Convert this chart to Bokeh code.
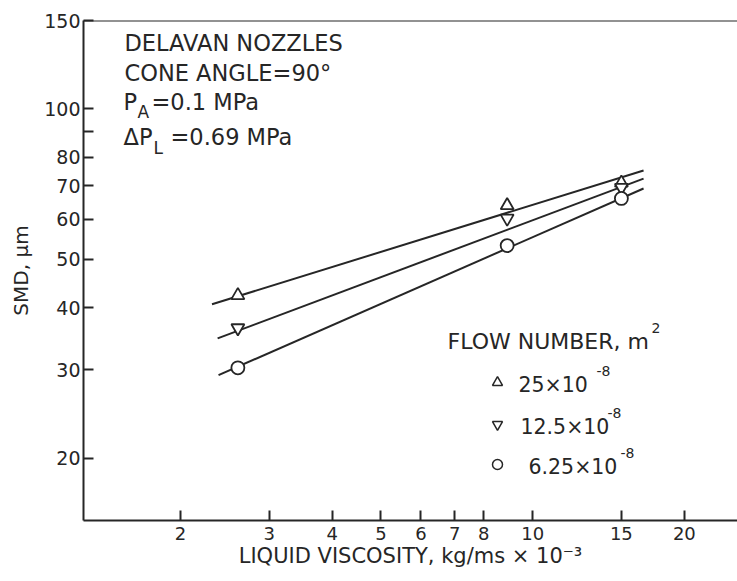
import math
from bokeh.plotting import figure
from bokeh.models import Label, Span, FixedTicker
from bokeh.embed import file_html
from bokeh.resources import INLINE

# ---------------- data ----------------
viscosity = [2.6, 8.9, 15.0]               # kg/ms x 1e-3
smd_fn25 = [42.3, 64.0, 71.0]              # flow number 25e-8 (triangle)
smd_fn125 = [36.4, 60.3, 69.5]             # flow number 12.5e-8 (inverted triangle)
smd_fn625 = [30.3, 53.2, 66.1]             # flow number 6.25e-8 (circle)

fit_fn25_x = [2.31, 16.6]
fit_fn25_y = [40.6, 75.2]
fit_fn125_x = [2.37, 16.6]
fit_fn125_y = [34.7, 72.4]
fit_fn625_x = [2.38, 16.6]
fit_fn625_y = [29.3, 69.2]

x_ticks = [2, 3, 4, 5, 6, 7, 8, 10, 15, 20]
y_ticks = [20, 30, 40, 50, 60, 70, 80, 100, 150]
y_minor = [90]

legend_labels = ["25×10", "12.5×10", "6.25×10"]
legend_markers = ["triangle", "inverted_triangle", "circle"]

# ---------------- styling ----------------
INK = "#262626"
FONT = "DejaVu Sans"
W, H = 737, 581
LEFT, TOP, BOTTOM = 83, 20, 61
X0, X1 = 1.284, 25.5
Y0, Y1 = 15.0, 150.0
FW, FH = W - LEFT, H - TOP - BOTTOM

p = figure(width=W, height=H, x_axis_type="log", y_axis_type="log",
           x_range=(X0, X1), y_range=(Y0, Y1),
           output_backend="svg", toolbar_location=None,
           min_border_left=LEFT, min_border_right=0,
           min_border_top=TOP, min_border_bottom=BOTTOM)
p.outline_line_color = None
p.grid.visible = False
p.background_fill_color = "white"
p.border_fill_color = "white"

for ax in (p.xaxis[0], p.yaxis[0]):
    ax.axis_line_color = INK
    ax.axis_line_width = 2
    ax.major_tick_line_color = INK
    ax.major_tick_line_width = 2
    ax.minor_tick_line_color = INK
    ax.minor_tick_line_width = 2
    ax.major_tick_in = 10
    ax.major_tick_out = 0
    ax.minor_tick_in = 10
    ax.minor_tick_out = 0
    ax.major_label_text_color = INK
    ax.major_label_text_font = FONT
    ax.axis_label_text_color = INK
    ax.axis_label_text_font = FONT
    ax.axis_label_text_font_style = "normal"

p.xaxis[0].ticker = FixedTicker(ticks=x_ticks, minor_ticks=[])
p.yaxis[0].ticker = FixedTicker(ticks=y_ticks, minor_ticks=y_minor)
p.xaxis[0].major_label_text_font_size = "18px"
p.yaxis[0].major_label_text_font_size = "19px"
p.xaxis[0].major_label_standoff = 6
p.yaxis[0].major_label_standoff = 3

p.xaxis[0].axis_label = "LIQUID VISCOSITY, kg/ms × 10⁻³"
p.xaxis[0].axis_label_text_font_size = "21px"
p.xaxis[0].axis_label_standoff = 1
p.yaxis[0].axis_label = "SMD, μm"
p.yaxis[0].axis_label_text_font_size = "20px"
p.yaxis[0].axis_label_standoff = 8

p.add_layout(Span(location=Y1, dimension="width", line_color=INK, line_width=2))

# fitted lines
for fx, fy in ((fit_fn25_x, fit_fn25_y), (fit_fn125_x, fit_fn125_y), (fit_fn625_x, fit_fn625_y)):
    p.line(fx, fy, line_color=INK, line_width=2)

# data points
for ys, mk in ((smd_fn25, "triangle"), (smd_fn125, "inverted_triangle"), (smd_fn625, "circle")):
    p.scatter(viscosity, ys, marker=mk, size=13, fill_color="white",
              line_color=INK, line_width=1.8)


# ---------- helpers to place text by pixel position ----------
def px_x(px):
    lo, hi = math.log10(X0), math.log10(X1)
    return 10 ** (lo + (px - LEFT) / FW * (hi - lo))


def px_y(py):
    lo, hi = math.log10(Y0), math.log10(Y1)
    return 10 ** (hi - (py - TOP) / FH * (hi - lo))


def text(px, py, s, size, align="left", angle=0.0):
    p.add_layout(Label(x=px_x(px), y=px_y(py), text=s, text_font=FONT,
                       text_font_size=f"{size}px", text_color=INK,
                       text_align=align, text_baseline="middle", angle=angle))


# annotation block
text(124, 42, "DELAVAN NOZZLES", 22.5)
text(124, 72, "CONE ANGLE=90°", 22.5)
text(123, 101, "P", 22.5)
text(137, 111, "A", 17)
text(151, 101, "=0.1 MPa", 22.5)
text(123, 136, "ΔP", 22.5)
text(153, 147, "L", 17)
text(170, 136, "=0.69 MPa", 22.5)

# legend block
text(447, 341, "FLOW NUMBER, m", 22)
text(651, 327, "2", 14)
rows_y = [382, 424, 464]
for mk, ry in zip(legend_markers, rows_y):
    p.scatter([px_x(497)], [px_y(ry)], marker=mk, size=10, fill_color="white",
              line_color=INK, line_width=1.5)
legend_text_x = [518, 520, 528]
for lbl, ry, lx in zip(legend_labels, rows_y, legend_text_x):
    text(lx, ry + 2, lbl, 20.5)
legend_sup_x = [596, 607, 620]
for ry, sx in zip(rows_y, legend_sup_x):
    text(sx, ry - 12, "-8", 14)

open("out.html", "w").write(file_html(p, INLINE))
